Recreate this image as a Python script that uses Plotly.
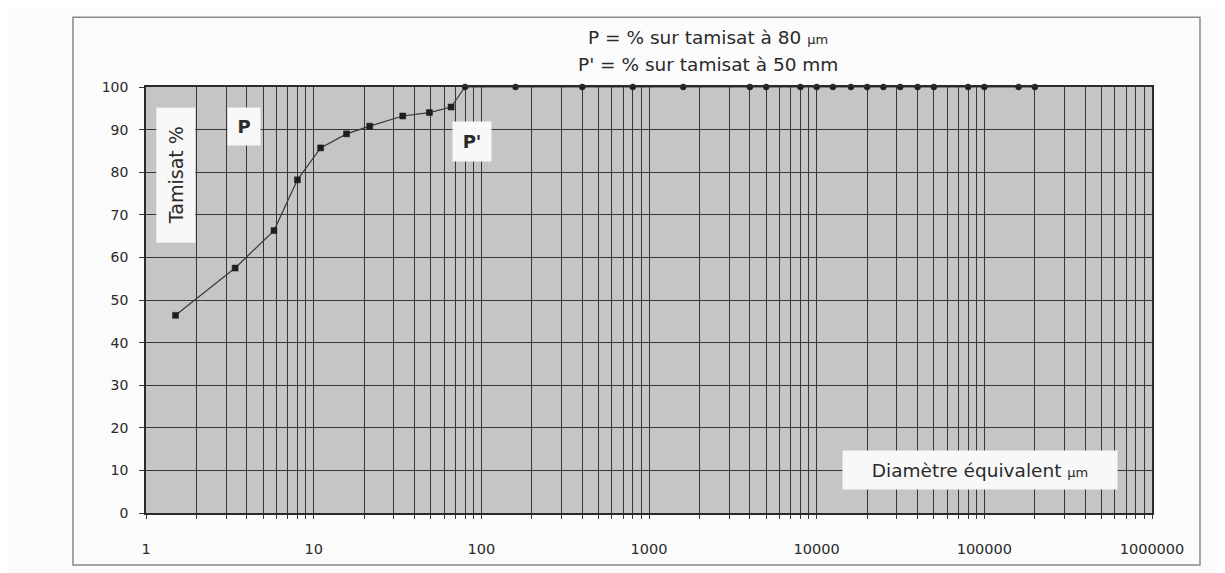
import plotly.graph_objects as go

# Data: equivalent diameter (µm) and cumulative passing (%)
diam_fine = [1.5, 3.4, 5.8, 8, 11, 15.7, 21.6, 34, 49, 66]
pass_fine = [46.4, 57.5, 66.3, 78.2, 85.7, 89.0, 90.8, 93.2, 94.0, 95.3]
diam_sieve = [80, 160, 400, 800, 1600, 4000, 5000, 8000, 10000, 12500, 16000,
              20000, 25000, 31500, 40000, 50000, 80000, 100000, 160000, 200000]
pass_sieve = [100] * len(diam_sieve)

y_ticks = list(range(0, 101, 10))
x_major = [1, 10, 100, 1000, 10000, 100000, 1000000]
x_major_text = ["1", "10", "100", "1000", "10000", "100000", "1000000"]

# Grid positions: every integer multiple within each decade
grid_vals, grid_text = [], []
for d in range(6):
    for m in range(1, 10):
        v = m * 10 ** d
        grid_vals.append(v)
        grid_text.append(x_major_text[d] if m == 1 else "")
grid_vals.append(x_major[-1])
grid_text.append(x_major_text[-1])

x_all = diam_fine + diam_sieve
y_all = pass_fine + pass_sieve
symbols = ["square"] * len(diam_fine) + ["circle"] * len(diam_sieve)

FONT = "DejaVu Sans, Liberation Sans, Arial, sans-serif"
TXT = "#2a2a2a"

fig = go.Figure()
fig.add_trace(go.Scatter(
    x=x_all, y=y_all, mode="lines+markers",
    line=dict(color="#3a3a3a", width=1.2),
    marker=dict(symbol=symbols, size=6, color="#1e1e1e",
                line=dict(color="#1e1e1e", width=0.5)),
    showlegend=False, cliponaxis=False,
))

fig.update_layout(
    width=1217, height=565,
    margin=dict(l=138, r=73, t=79, b=60),
    paper_bgcolor="#fbfbfb",
    plot_bgcolor="#c5c5c5",
    font=dict(family=FONT, color=TXT, size=14),
    showlegend=False,
)

fig.update_xaxes(
    type="log", range=[0, 6],
    tickmode="array", tickvals=grid_vals, ticktext=grid_text,
    showgrid=True, gridcolor="#363636", gridwidth=1,
    ticks="outside", ticklen=4, tickcolor="#363636",
    ticklabelstandoff=18,
    showline=True, linecolor="#2a2a2a", linewidth=1.5, mirror=True,
    zeroline=False,
    tickfont=dict(size=14.5, color=TXT, family=FONT),
)
fig.update_yaxes(
    range=[0, 100], tickmode="array", tickvals=y_ticks,
    ticktext=[str(v) for v in y_ticks],
    showgrid=True, gridcolor="#363636", gridwidth=1,
    ticks="outside", ticklen=5, tickcolor="#363636",
    ticklabelstandoff=8,
    showline=True, linecolor="#2a2a2a", linewidth=1.5, mirror=True,
    zeroline=False,
    tickfont=dict(size=14, color=TXT, family=FONT),
)

# Outer chart frame
fig.add_shape(type="rect", xref="paper", yref="paper",
              x0=-0.0726, x1=1.0477, y0=-0.122, y1=1.164,
              line=dict(color="#8a8a8a", width=1.5), fillcolor="rgba(0,0,0,0)",
              layer="below")

def note(x, y, text, size, **kw):
    fig.add_annotation(xref="paper", yref="paper", x=x, y=y, text=text,
                       showarrow=False, xanchor="center", yanchor="middle",
                       font=dict(size=size, color=TXT, family=FONT), **kw)

# Title lines
note(0.559, 1.117, "P = % sur tamisat à 80 <span style='font-size:13px'>µm</span>", 18.5)
note(0.559, 1.052, "P' = % sur tamisat à 50 mm", 18.5)

# Label boxes
note(0.0298, 0.793, "Tamisat %", 19, textangle=-90, bgcolor="#f8f8f8",
     width=132, height=36)
note(0.0974, 0.908, "<b>P</b>", 18, bgcolor="#f8f8f8", width=30, height=35)
note(0.324, 0.871, "<b>P'</b>", 18, bgcolor="#f8f8f8", width=36, height=37)
note(0.829, 0.101, "Diamètre équivalent <span style='font-size:13px'>µm</span>", 18.5,
     bgcolor="#f8f8f8", width=272, height=36)

fig.write_html("out.html")
